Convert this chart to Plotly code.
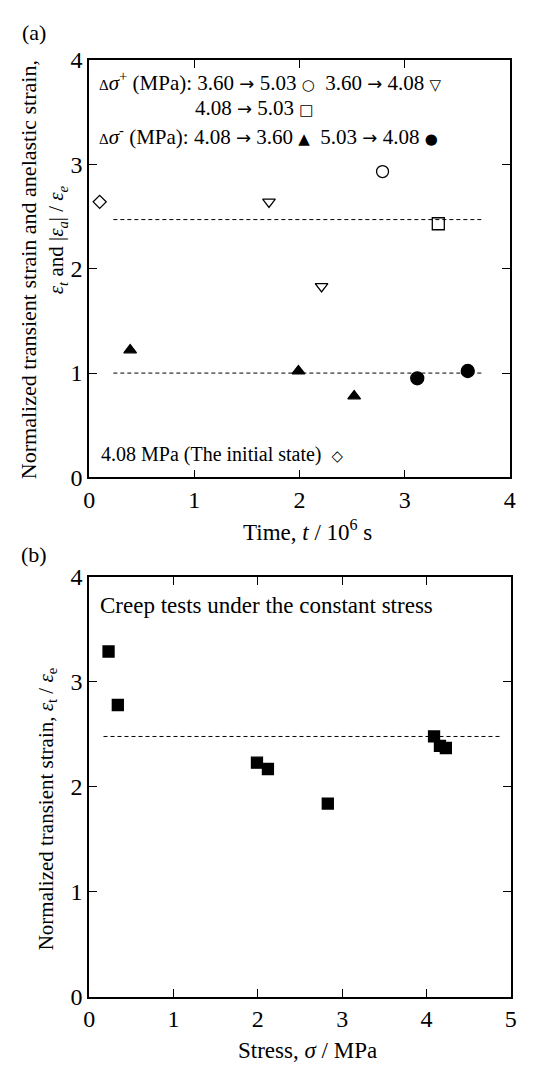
import plotly.graph_objects as go

# ---------------- Data: panel (a) ----------------
initial_t = [0.10]
initial_r = [2.64]
up_360_503_t = [2.79]
up_360_503_r = [2.93]
up_360_408_t = [1.71, 2.21]
up_360_408_r = [2.64, 1.83]
up_408_503_t = [3.32]
up_408_503_r = [2.43]
down_408_360_t = [0.39, 1.99, 2.52]
down_408_360_r = [1.22, 1.02, 0.78]
down_503_408_t = [3.12, 3.60]
down_503_408_r = [0.95, 1.02]
mean_up_t = [0.23, 3.75]
mean_up_r = [2.47, 2.47]
mean_down_t = [0.23, 3.75]
mean_down_r = [1.0, 1.0]

# ---------------- Data: panel (b) ----------------
creep_stress = [0.23, 0.34, 1.99, 2.12, 2.83, 4.09, 4.16, 4.23]
creep_ratio = [3.29, 2.78, 2.23, 2.17, 1.84, 2.48, 2.39, 2.37]
mean_creep_s = [0.17, 4.87]
mean_creep_r = [2.48, 2.48]

ticks_a_x = [0, 1, 2, 3, 4]
ticks_y = [0, 1, 2, 3, 4]
ticks_b_x = [0, 1, 2, 3, 4, 5]

FONT = "Liberation Serif, Times New Roman, serif"
W, H = 552, 1075

fig = go.Figure()

def pts(x, y, symbol, size, xa="x", ya="y", lw=1.3):
    fig.add_trace(go.Scatter(x=x, y=y, mode="markers", xaxis=xa, yaxis=ya,
                             marker=dict(symbol=symbol, size=size, color="black",
                                         line=dict(color="black", width=lw)),
                             showlegend=False, hoverinfo="skip"))

def dline(x, y, xa="x", ya="y"):
    fig.add_trace(go.Scatter(x=x, y=y, mode="lines", xaxis=xa, yaxis=ya,
                             line=dict(color="black", width=1, dash="4px,3px"),
                             showlegend=False, hoverinfo="skip"))

dline(mean_up_t, mean_up_r)
dline(mean_down_t, mean_down_r)
pts(initial_t, initial_r, "diamond-open", 10)
pts(up_360_503_t, up_360_503_r, "circle-open", 12)
pts(up_360_408_t, up_360_408_r, "triangle-down-open", 11)
pts(up_408_503_t, up_408_503_r, "square-open", 12)
pts(down_408_360_t, down_408_360_r, "triangle-up", 11)
pts(down_503_408_t, down_503_408_r, "circle", 13)

dline(mean_creep_s, mean_creep_r, "x2", "y2")
pts(creep_stress, creep_ratio, "square", 11, "x2", "y2")

axis_common = dict(showline=True, linecolor="black", linewidth=1.5, mirror="ticks",
                   ticks="inside", ticklen=8, tickwidth=1, tickcolor="black",
                   showgrid=False, zeroline=False,
                   tickfont=dict(family=FONT, size=24, color="black"))

fig.update_layout(
    width=W, height=H, margin=dict(l=0, r=0, t=0, b=0),
    paper_bgcolor="white", plot_bgcolor="white",
    font=dict(family=FONT, color="black"),
    xaxis=dict(domain=[85 / W, 515 / W], range=[0, 4], tickvals=ticks_a_x,
               anchor="y", **axis_common),
    yaxis=dict(domain=[1 - 476 / H, 1 - 48 / H], range=[0, 4], tickvals=ticks_y,
               anchor="x", **axis_common),
    xaxis2=dict(domain=[85 / W, 516 / W], range=[0, 5], tickvals=ticks_b_x,
                anchor="y2", **axis_common),
    yaxis2=dict(domain=[1 - 1008 / H, 1 - 578 / H], range=[0, 4], tickvals=ticks_y,
                anchor="x2", **axis_common),
)

def ann(text, px, py, size=18, xanchor="center", angle=0):
    fig.add_annotation(text=text, x=px / W, y=1 - py / H, xref="paper", yref="paper",
                       xanchor=xanchor, yanchor="middle", showarrow=False,
                       borderpad=0, borderwidth=0,
                       textangle=angle, font=dict(family=FONT, size=size, color="black"))

def sym(ch, size=15):
    return f"<span style='font-family:DejaVu Sans;font-size:{size}px'>{ch}</span>"

D = "<span style='font-size:15px'>Δ</span>"
ARR = sym("→", 18)

# panel labels
ann("(a)", 29, 20, 22)
ann("(b)", 29, 555, 22)

# axis titles
ann("Time, <i>t</i> / 10<sup>6</sup> s", 308, 530, 23)
ann("Stress, <i>σ</i> / MPa", 308, 1063, 23)
ann("Normalized transient strain and anelastic strain,", 23, 263, 22, angle=-90)
ann("<i>ε<sub>t</sub></i> and |<i>ε<sub>a</sub></i>| / <i>ε<sub>e</sub></i>", 53, 232, 21, angle=-90)
ann("Normalized transient strain, <i>ε</i><sub>t</sub> / <i>ε</i><sub>e</sub>", 42, 816, 21, angle=-90)

# in-plot legend text
ann(f"{D}<i>σ</i><sup>+</sup> (MPa): 3.60 {ARR} 5.03 {sym('○')}  3.60 {ARR} 4.08 {sym('▽')}", 95, 70, 21, "left")
ann(f"4.08 {ARR} 5.03 {sym('□')}", 193, 97, 21, "left")
ann(f"{D}<i>σ</i><sup>-</sup> (MPa): 4.08 {ARR} 3.60 {sym('▲')}  5.03 {ARR} 4.08 {sym('●')}", 95, 126, 21, "left")
ann(f"4.08 MPa (The initial state)  {sym('◇')}", 97, 452, 20, "left")
ann("Creep tests under the constant stress", 96, 607, 23, "left")

fig.write_html("out.html")
